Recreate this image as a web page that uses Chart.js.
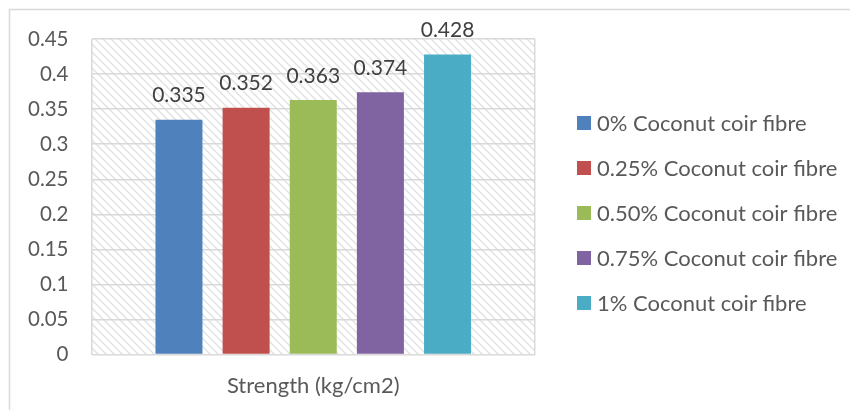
<!DOCTYPE html>
<html>
<head>
<meta charset="utf-8">
<script src="https://cdn.jsdelivr.net/npm/chart.js@4"></script>
<style>
  html, body { margin: 0; padding: 0; background: #ffffff; }
  #wrap { width: 850px; height: 410px; position: relative; }
</style>
</head>
<body>
<div id="wrap"><canvas id="c" width="850" height="410"></canvas></div>
<script>
// Categories, series and tick values
const categories = ['Strength (kg/cm2)'];
const seriesNames = [
  '0% Coconut coir fibre',
  '0.25% Coconut coir fibre',
  '0.50% Coconut coir fibre',
  '0.75% Coconut coir fibre',
  '1% Coconut coir fibre'
];
const seriesValues = [0.335, 0.352, 0.363, 0.374, 0.428];
const seriesColors = ['#4f81bd', '#c0504d', '#9bbb59', '#8064a2', '#4bacc6'];
const yTicks = [0, 0.05, 0.1, 0.15, 0.2, 0.25, 0.3, 0.35, 0.4, 0.45];

const FONT = 'Lato, "Open Sans", sans-serif';
const TEXT = '#595959';
const GRID = '#d9d9d9';

// Diagonal hatch tile for the plot background
function hatchPattern(ctx) {
  const s = 8;
  const t = document.createElement('canvas');
  t.width = s; t.height = s;
  const g = t.getContext('2d');
  g.strokeStyle = '#e2e2e2';
  g.lineWidth = 1.5;
  g.beginPath();
  g.moveTo(-1, -1); g.lineTo(s + 1, s + 1);
  g.moveTo(-1 - s, -1); g.lineTo(1, s + 1);
  g.moveTo(s - 1, -1); g.lineTo(2 * s + 1, s + 1);
  g.stroke();
  return ctx.createPattern(t, 'repeat');
}

const backdrop = {
  id: 'backdrop',
  beforeDraw(chart) {
    const { ctx, chartArea: a } = chart;
    ctx.save();
    // outer chart frame
    ctx.strokeStyle = GRID;
    ctx.lineWidth = 1.5;
    ctx.strokeRect(9.5, 9.5, chart.width + 10, chart.height + 10);
    // hatched plot area
    ctx.fillStyle = hatchPattern(ctx);
    ctx.fillRect(a.left, a.top, a.right - a.left, a.bottom - a.top);
    ctx.restore();
  }
};

const valueLabels = {
  id: 'valueLabels',
  afterDatasetsDraw(chart) {
    const { ctx } = chart;
    ctx.save();
    ctx.font = '21px ' + FONT;
    ctx.fillStyle = '#404040';
    ctx.textAlign = 'center';
    ctx.textBaseline = 'middle';
    chart.data.datasets.forEach((ds, i) => {
      chart.getDatasetMeta(i).data.forEach((bar, j) => {
        ctx.fillText(String(ds.data[j]), bar.x, bar.y - 24);
      });
    });
    ctx.restore();
  }
};

const sideLegend = {
  id: 'sideLegend',
  afterDraw(chart) {
    const { ctx } = chart;
    ctx.save();
    ctx.font = '22px ' + FONT;
    ctx.textBaseline = 'middle';
    ctx.textAlign = 'left';
    chart.data.datasets.forEach((ds, i) => {
      const y = 123 + i * 45;
      ctx.fillStyle = ds.backgroundColor;
      ctx.fillRect(577, y - 7, 14, 14);
      ctx.fillStyle = TEXT;
      ctx.fillText(ds.label, 597, y + 1);
    });
    ctx.restore();
  }
};

new Chart(document.getElementById('c'), {
  type: 'bar',
  data: {
    labels: categories,
    datasets: seriesNames.map((name, i) => ({
      label: name,
      data: [seriesValues[i]],
      backgroundColor: seriesColors[i],
      borderWidth: 0,
      categoryPercentage: 0.757,
      barPercentage: 0.7
    }))
  },
  options: {
    responsive: false,
    animation: false,
    devicePixelRatio: 1,
    layout: { padding: { left: 5, right: 315, top: 39, bottom: -7 } },
    plugins: {
      legend: { display: false },
      tooltip: { enabled: false }
    },
    scales: {
      x: {
        grid: { display: true, color: GRID, lineWidth: 1.5, drawTicks: false, offset: true },
        border: { display: false },
        ticks: { color: TEXT, font: { family: FONT, size: 22 }, padding: 18 }
      },
      y: {
        min: 0,
        max: 0.45,
        afterBuildTicks(scale) { scale.ticks = yTicks.map(v => ({ value: v })); },
        grid: { color: GRID, lineWidth: 1.5, drawTicks: false },
        border: { display: false },
        ticks: {
          color: TEXT,
          font: { family: FONT, size: 20.5 },
          padding: 23,
          callback: v => String(Math.round(v * 100) / 100)
        }
      }
    }
  },
  plugins: [backdrop, valueLabels, sideLegend]
});
</script>
</body>
</html>
